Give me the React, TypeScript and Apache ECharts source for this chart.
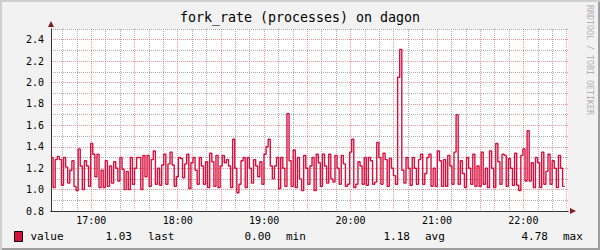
import { useEffect, useRef } from 'react';
import * as echarts from 'echarts';

const TITLE = 'fork_rate (processes) on dagon';
const SERIES_NAME = 'value';
const WATERMARK = 'RRDTOOL / TOBI OETIKER';

// time axis in minutes since midnight: 16:32 .. 22:31
const START_MIN = 992;
const END_MIN = 1351;
const STEP_MIN = 1.45;

// values, read left to right
const values1632 = [
  1.30, 1.02, 1.28, 1.31, 1.28, 1.04, 1.30, 1.21, 1.06, 1.18,
  1.27, 1.03, 0.99, 1.38, 1.22, 1.00, 1.27, 1.22, 1.03, 1.43,
  1.33, 1.12, 1.33, 1.02, 1.18, 1.02, 1.27, 1.03, 1.22, 1.06,
  1.26, 1.20, 1.08, 1.30, 1.19, 1.00, 1.17, 1.00, 1.30, 1.05,
  1.20, 1.30, 1.30,
];
const values1734 = [
  1.00, 1.32, 1.12, 1.32, 1.03, 1.28, 1.36, 1.05, 1.20, 1.04,
  1.23, 1.33, 1.05, 1.24, 1.35, 1.23, 1.03, 1.12, 1.30, 1.29,
  1.11, 1.24, 1.33, 1.01, 1.25, 1.30, 1.18, 1.05, 1.30, 1.22,
  1.05, 1.26, 1.02, 1.34, 1.26, 1.03, 1.32, 1.02, 1.22, 1.32,
  1.25, 1.28,
];
const values1835 = [
  1.22, 1.02, 1.47, 1.20, 0.97, 1.05, 1.27, 1.30, 1.02, 1.30,
  1.20, 1.06, 1.28, 1.22, 1.12, 1.26, 1.05, 1.33, 1.40, 1.47,
  1.22, 1.10, 1.22, 1.30, 1.01, 1.30, 1.20, 1.03, 1.71, 1.27,
  1.03, 1.37, 1.02, 1.30, 1.10, 0.99, 1.32, 1.20, 1.05, 1.22,
  1.30, 0.99, 1.33, 1.25, 1.03, 1.33, 1.22, 1.06, 1.33, 1.10,
  1.07, 1.32, 1.20, 1.05, 1.32, 1.24, 1.03, 1.05, 1.35, 1.47,
  1.02, 1.05, 1.26, 1.22, 1.05, 1.30, 1.04, 1.30, 1.27, 1.05,
  1.07, 1.44, 1.30, 1.05, 1.34, 1.28, 1.03, 1.29, 1.20, 1.13,
  1.05, 2.05, 2.31, 1.18, 1.06, 1.30, 1.20, 1.04, 1.30, 1.20,
  1.05, 1.28, 1.33, 1.05, 1.15, 1.30,
];
const values2055 = [
  1.33, 1.03, 1.20, 1.03, 1.36, 1.27, 1.03, 1.28, 1.03, 1.32,
  1.22, 1.05, 1.35, 1.70, 1.05, 1.27, 1.15, 1.02, 1.30, 1.20,
  1.05, 1.33, 1.03, 1.22,
];
const values2130 = [
  1.03, 1.35, 1.05, 1.20, 1.02, 1.36, 1.20, 1.02, 1.43, 1.26,
  1.05, 1.33, 1.32, 1.03, 1.29, 1.20, 1.04, 1.34, 1.04, 0.99,
  1.32, 1.38, 1.08, 1.55, 1.08, 1.25, 1.02, 1.30, 1.25, 1.02,
  1.35, 1.05, 1.17, 1.33, 1.05, 1.27, 1.20, 1.02, 1.32, 1.20,
  1.03,
];

const statNames = ['last', 'min', 'avg', 'max'];
const statValues = [1.03, 0.0, 1.18, 4.78];

// layout
const W = 600;
const H = 250;
const GRID_L = 51;
const GRID_T = 29;
const GRID_R = 32;
const GRID_B = 39;
const STAT_VALUE_RIGHT = [132, 271, 410, 548];
const STAT_LABEL_LEFT = [148, 286, 425, 563];

const MONO = '"DejaVu Sans Mono", "Liberation Mono", monospace';
const RED = '#D8103F';
const GRID_MINOR = 'rgba(143,143,143,0.75)';
const GRID_MAJOR = 'rgba(222,79,79,0.6)';
const AXIS = '#333333';
const ARROW = '#801F1F';

export default function App() {
  const ref = useRef<HTMLDivElement>(null);

  useEffect(() => {
    document.body.style.margin = '0';
    const el = ref.current;
    if (!el) return;
    const chart = echarts.init(el, null, { renderer: 'svg', width: W, height: H });

    const values = [...values1632, ...values1734, ...values1835, ...values2055, ...values2130];
    const data: number[][] = values.map((v, i) => [START_MIN + i * STEP_MIN, v]);
    data.push([START_MIN + values.length * STEP_MIN, values[values.length - 1]]);

    const gridW = W - GRID_L - GRID_R;
    const gridH = H - GRID_T - GRID_B;

    const xSplitColors = Array.from({ length: 15 }, (_, i) => {
      const m = (START_MIN + 2 * i) % 30;
      return m === 0 ? GRID_MAJOR : m % 10 === 0 ? GRID_MINOR : 'rgba(0,0,0,0)';
    });

    const fmtTime = (v: number) => {
      const h = Math.floor(v / 60);
      const m = Math.round(v % 60);
      return `${String(h).padStart(2, '0')}:${String(m).padStart(2, '0')}`;
    };

    const statGraphics: any[] = [];
    statNames.forEach((name, i) => {
      statGraphics.push({
        type: 'text',
        x: STAT_VALUE_RIGHT[i],
        y: 236,
        silent: true,
        style: {
          text: statValues[i].toFixed(2),
          textAlign: 'right',
          textVerticalAlign: 'middle',
          font: `11px ${MONO}`,
          fill: '#000',
        },
      });
      statGraphics.push({
        type: 'text',
        x: STAT_LABEL_LEFT[i],
        y: 236,
        silent: true,
        style: {
          text: name,
          textAlign: 'left',
          textVerticalAlign: 'middle',
          font: `11px ${MONO}`,
          fill: '#000',
        },
      });
    });

    chart.setOption({
      animation: false,
      title: {
        text: TITLE,
        left: 'center',
        top: 11,
        padding: 0,
        textStyle: { fontFamily: MONO, fontSize: 13.3, fontWeight: 'normal', color: '#000' },
      },
      legend: {
        data: [SERIES_NAME],
        left: 14,
        top: 231,
        padding: 0,
        icon: 'rect',
        itemWidth: 8,
        itemHeight: 10,
        selectedMode: false,
        itemStyle: { borderColor: '#000', borderWidth: 1 },
        textStyle: { fontFamily: MONO, fontSize: 11, color: '#000', padding: [0, 0, 0, 3] },
      },
      grid: {
        left: GRID_L,
        top: GRID_T,
        right: GRID_R,
        bottom: GRID_B,
        containLabel: false,
        outerBoundsMode: 'none',
        show: true,
        backgroundColor: '#ffffff',
        borderWidth: 0,
      },
      xAxis: [
        {
          type: 'value',
          min: START_MIN,
          max: END_MIN,
          interval: 2,
          position: 'bottom',
          z: 2,
          axisLine: { show: true, onZero: false, lineStyle: { color: AXIS, width: 1 } },
          axisTick: { show: false },
          axisLabel: {
            show: true,
            interval: 0,
            margin: 4,
            fontFamily: MONO,
            fontSize: 10,
            color: '#000',
            formatter: (v: number) => (v % 60 === 0 ? fmtTime(v) : ''),
          },
          splitLine: {
            show: true,
            showMinLine: true,
            showMaxLine: true,
            lineStyle: { color: xSplitColors, type: [1, 1], width: 1 },
          },
        },
        {
          type: 'value',
          min: START_MIN,
          max: END_MIN,
          position: 'top',
          offset: -gridH,
          z: 1,
          axisLine: {
            show: true,
            onZero: false,
            symbol: ['none', 'triangle'],
            symbolSize: [6, 6],
            symbolOffset: [0, 5],
            lineStyle: { color: ARROW, width: 1 },
          },
          axisTick: { show: false },
          axisLabel: { show: false },
          splitLine: { show: false },
        },
      ],
      yAxis: [
        {
          type: 'value',
          min: 0.8,
          max: 2.5,
          interval: 0.1,
          position: 'left',
          z: 2,
          axisLine: { show: true, onZero: false, lineStyle: { color: AXIS, width: 1 } },
          axisTick: { show: false },
          axisLabel: {
            show: true,
            margin: 7,
            fontFamily: MONO,
            fontSize: 10,
            color: '#000',
            formatter: (v: number) => {
              const t = Math.round(v * 10);
              return t % 2 === 0 && t <= 24 ? v.toFixed(1) : '';
            },
          },
          splitLine: {
            show: true,
            showMinLine: true,
            showMaxLine: true,
            lineStyle: { color: [GRID_MAJOR, GRID_MINOR], type: [1, 1], width: 1 },
          },
        },
        {
          type: 'value',
          min: 0.8,
          max: 2.5,
          position: 'right',
          offset: -gridW,
          z: 1,
          axisLine: {
            show: true,
            onZero: false,
            symbol: ['none', 'triangle'],
            symbolSize: [6, 6],
            symbolOffset: [0, 5],
            lineStyle: { color: ARROW, width: 1 },
          },
          axisTick: { show: false },
          axisLabel: { show: false },
          splitLine: { show: false },
        },
      ],
      graphic: [
        ...statGraphics,
        {
          type: 'text',
          x: 590,
          y: 60,
          rotation: -Math.PI / 2,
          silent: true,
          style: {
            text: WATERMARK,
            textAlign: 'center',
            textVerticalAlign: 'middle',
            font: `8.3px ${MONO}`,
            fill: '#b0b0b0',
          },
        },
      ],
      series: [
        {
          type: 'line',
          name: SERIES_NAME,
          data,
          step: 'end',
          xAxisIndex: 0,
          yAxisIndex: 0,
          showSymbol: false,
          symbol: 'none',
          silent: true,
          z: 3,
          lineStyle: { color: RED, width: 1.4 },
          itemStyle: { color: RED },
        },
      ],
    });

    return () => {
      chart.dispose();
    };
  }, []);

  return (
    <div
      style={{
        width: W,
        height: H,
        background: '#f2f2f2',
        boxShadow: 'inset 2px 2px 0 #cfcfcf, inset -2px -2px 0 #9e9e9e',
      }}
    >
      <div ref={ref} style={{ width: W, height: H }} />
    </div>
  );
}
